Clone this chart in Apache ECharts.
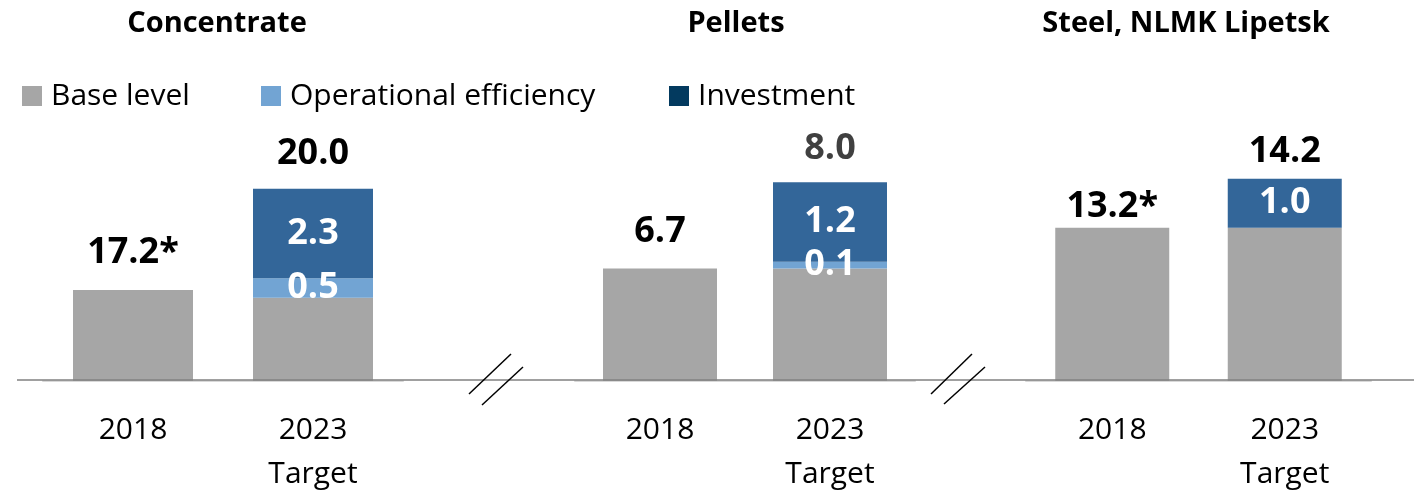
<!DOCTYPE html>
<html>
<head>
<meta charset="utf-8">
<title>Production growth targets</title>
<script src="https://cdn.jsdelivr.net/npm/echarts@6/dist/echarts.min.js"></script>
<style>
    html, body { margin: 0; padding: 0; background: #fff; }
    #chart { width: 1414px; height: 490px; }
</style>
</head>
<body>
<div id="chart"></div>
<script>
// ============================================
// 数据
// ============================================

const categories = ['2018', '2023\nTarget'];
const panelTitles = ['Concentrate', 'Pellets', 'Steel, NLMK Lipetsk'];
const seriesNames = ['Base level', 'Operational efficiency', 'Investment'];

// Concentrate
const concBase = [17.2, 17.0];
const concOps = [null, 0.5];
const concInv = [null, 2.3];
const concTotals = ['17.2*', '20.0'];

// Pellets
const pelBase = [6.7, 6.7];
const pelOps = [null, 0.1];
const pelInv = [null, 1.2];
const pelTotals = ['6.7', '8.0'];

// Steel, NLMK Lipetsk
const steelBase = [13.2, 13.2];
const steelOps = [null, null];
const steelInv = [null, 1.0];
const steelTotals = ['13.2*', '14.2'];

// ============================================
// 样式 / 布局
// ============================================

const FONT = '"Open Sans", "Noto Sans", sans-serif';
const COLORS = ['#a6a6a6', '#72a4d3', '#336699'];
const LEGEND_COLORS = ['#a6a6a6', '#72a4d3', '#033a5f'];

// 每个面板: 网格位置、纵轴范围(断轴)、柱宽
const panels = [
    { left: 43, width: 360, min: 14.86, max: 21.05, barWidth: 120, titleX: 217,
      base: concBase, ops: concOps, inv: concInv, totals: concTotals, gap: [19, 17] },
    { left: 575, width: 340, min: 5.0, max: 8.64, barWidth: 114, titleX: 736,
      base: pelBase, ops: pelOps, inv: pelInv, totals: pelTotals, gap: [19, 16] },
    { left: 1026, width: 345, min: 10.07, max: 14.99, barWidth: 114, titleX: 1186,
      base: steelBase, ops: steelOps, inv: steelInv, totals: steelTotals, gap: [3, 9] }
];

const innerLabel = {
    show: true,
    position: 'inside',
    color: '#fff',
    fontFamily: FONT,
    fontSize: 36,
    fontWeight: 'bold',
    formatter: p => (p.value == null ? '' : Number(p.value).toFixed(1))
};

/**
 * 构建一个面板的系列
 * @param {object} panel - 面板配置
 * @param {number} idx - 面板序号
 * @returns {Array} 系列列表
 */
function buildSeries(panel, idx) {
    const stack = 'p' + idx;
    const common = { type: 'bar', stack, xAxisIndex: idx, yAxisIndex: idx, barWidth: panel.barWidth };
    return [
        { ...common, name: seriesNames[0], data: panel.base,
          itemStyle: { color: COLORS[0] } },
        { ...common, name: seriesNames[1], data: panel.ops,
          itemStyle: { color: COLORS[1] }, label: innerLabel },
        { ...common, name: seriesNames[2], data: panel.inv,
          itemStyle: { color: COLORS[2] }, label: innerLabel },
        // 合计标签: 零高度柱放在堆叠顶部
        { ...common, name: 'Total', silent: true,
          data: panel.totals.map((t, i) => ({
              value: 0,
              label: {
                  distance: panel.gap[i],
                  color: t === '8.0' ? '#404040' : '#000'
              }
          })),
          itemStyle: { color: 'transparent' },
          label: {
              show: true,
              position: 'top',
              fontFamily: FONT,
              fontSize: 36,
              fontWeight: 'bold',
              formatter: p => panel.totals[p.dataIndex]
          } }
    ];
}

// ============================================
// 图表
// ============================================

const chart = echarts.init(document.getElementById('chart'));

const option = {
    animation: false,
    title: panels.map((p, i) => ({
        text: panelTitles[i],
        left: p.titleX,
        top: 9,
        padding: 0,
        textAlign: 'center',
        textStyle: { fontFamily: FONT, fontSize: 29, fontWeight: 'bold', color: '#000' }
    })),
    legend: [22, 261, 669].map((x, i) => ({
        left: x,
        top: 81,
        padding: 0,
        itemWidth: 20,
        itemHeight: 20,
        icon: 'rect',
        selectedMode: false,
        data: [{ name: seriesNames[i], itemStyle: { color: LEGEND_COLORS[i] } }],
        textStyle: { fontFamily: FONT, fontSize: 30, color: '#000', padding: [0, 0, 0, 4] }
    })),
    // 固定网格位置, 不为标签收缩
    grid: panels.map(p => ({
        left: p.left, width: p.width, top: 140, bottom: 109,
        containLabel: false, outerBoundsMode: 'none'
    })),
    xAxis: panels.map((p, i) => ({
        type: 'category',
        gridIndex: i,
        data: categories,
        axisTick: { show: false },
        axisLine: { lineStyle: { color: '#d9d9d9', width: 2 } },
        axisLabel: {
            fontFamily: FONT,
            fontSize: 30,
            color: '#000',
            lineHeight: 44,
            margin: 27
        }
    })),
    yAxis: panels.map((p, i) => ({
        type: 'value',
        gridIndex: i,
        min: p.min,
        max: p.max,
        show: false,
        splitLine: { show: false }
    })),
    series: panels.flatMap(buildSeries),
    graphic: [
        // 贯穿的基线
        { type: 'line', z: 100, shape: { x1: 17, y1: 380, x2: 1414, y2: 380 },
          style: { stroke: '#808080', lineWidth: 1.5 } },
        // 断轴符号
        { type: 'line', z: 100, shape: { x1: 469, y1: 394, x2: 511, y2: 354 }, style: { stroke: '#000', lineWidth: 1.5 } },
        { type: 'line', z: 100, shape: { x1: 482, y1: 405, x2: 523, y2: 367 }, style: { stroke: '#000', lineWidth: 1.5 } },
        { type: 'line', z: 100, shape: { x1: 931, y1: 394, x2: 972, y2: 354 }, style: { stroke: '#000', lineWidth: 1.5 } },
        { type: 'line', z: 100, shape: { x1: 944, y1: 404, x2: 985, y2: 367 }, style: { stroke: '#000', lineWidth: 1.5 } }
    ]
};

chart.setOption(option);
</script>
</body>
</html>
